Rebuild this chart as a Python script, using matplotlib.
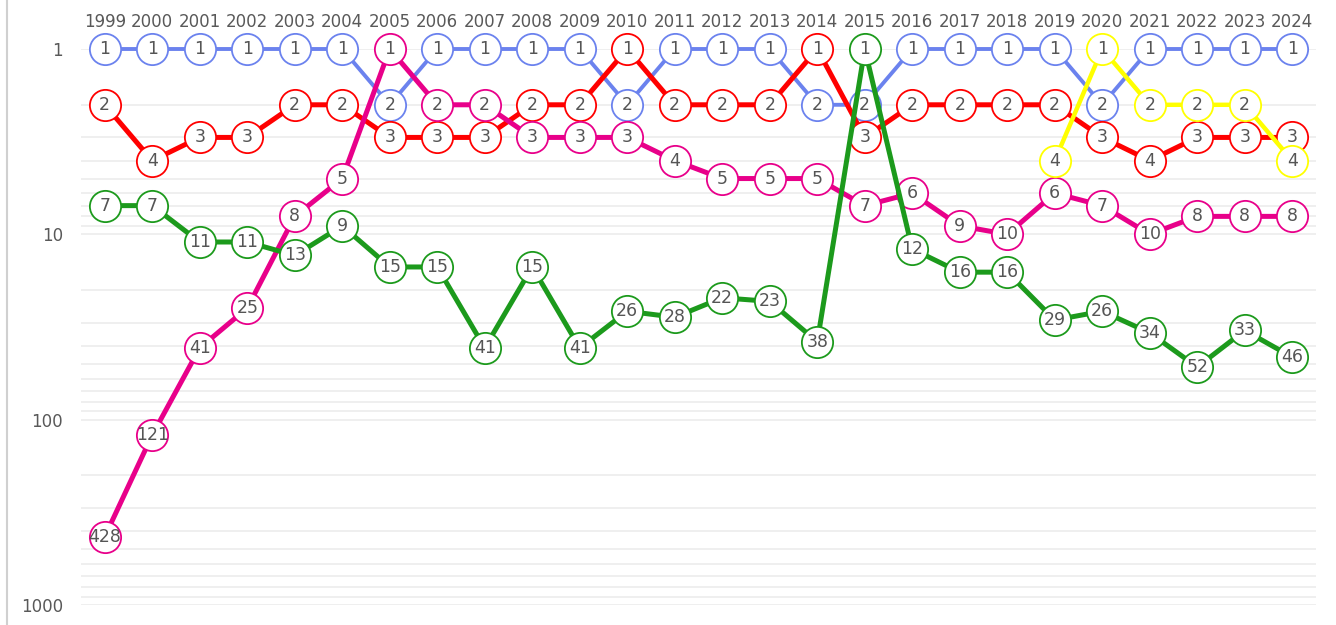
import matplotlib.pyplot as plt
from matplotlib.lines import Line2D

years = list(range(1999, 2025))

blue = [1, 1, 1, 1, 1, 1, 2, 1, 1, 1, 1, 2, 1, 1, 1, 2, 2, 1, 1, 1, 1, 2, 1, 1, 1, 1]
red = [2, 4, 3, 3, 2, 2, 3, 3, 3, 2, 2, 1, 2, 2, 2, 1, 3, 2, 2, 2, 2, 3, 4, 3, 3, 3]
magenta = [428, 121, 41, 25, 8, 5, 1, 2, 2, 3, 3, 3, 4, 5, 5, 5, 7, 6, 9, 10, 6, 7, 10, 8, 8, 8]
green = [7, 7, 11, 11, 13, 9, 15, 15, 41, 15, 41, 26, 28, 22, 23, 38, 1, 12, 16, 16, 29, 26, 34, 52, 33, 46]
yellow_years = [2019, 2020, 2021, 2022, 2023, 2024]
yellow = [4, 1, 2, 2, 2, 4]

series = [
    (years, blue, '#6b82ee', 2.8),
    (years, red, '#ff0000', 3.6),
    (years, magenta, '#e8008a', 3.6),
    (years, green, '#1c9a1c', 3.6),
    (yellow_years, yellow, '#ffff00', 3.2),
]

fig = plt.figure(figsize=(13.36, 6.25), dpi=100)
ax = fig.add_axes([81 / 1336, 1 - 605 / 625, 1235 / 1336, 556 / 625])

z = 3
for xs, ys, col, lw in series:
    ax.plot(xs, ys, color=col, lw=lw, marker='o', ms=22.5, mfc='white',
            mec=col, mew=1.3, zorder=z, clip_on=False)
    for x, y in zip(xs, ys):
        ax.text(x, y, str(y), ha='center', va='center', fontsize=12.5,
                color='#555555', zorder=z + 0.5, clip_on=False)
    z += 1

ax.set_yscale('log')
ax.set_ylim(1000, 1)
ax.set_xlim(1998.5, 2024.5)
ax.set_yticks([1, 10, 100, 1000])
ax.set_yticklabels(['1', '10', '100', '1000'])
ax.set_xticks(years)
ax.set_xticklabels([str(y) for y in years])
ax.xaxis.tick_top()
ax.tick_params(axis='x', length=0, pad=13, labelsize=12, labelcolor='#595959')
ax.tick_params(axis='y', which='both', length=0, pad=13, labelsize=12, labelcolor='#595959')
ax.grid(True, which='both', axis='y', color='#ebebeb', lw=1.1, zorder=0)
for s in ax.spines.values():
    s.set_visible(False)

fig.add_artist(Line2D([7 / 1336, 7 / 1336], [0, 1], color='#d0d0d0', lw=1.5))

fig.savefig('out.png', dpi=100)
